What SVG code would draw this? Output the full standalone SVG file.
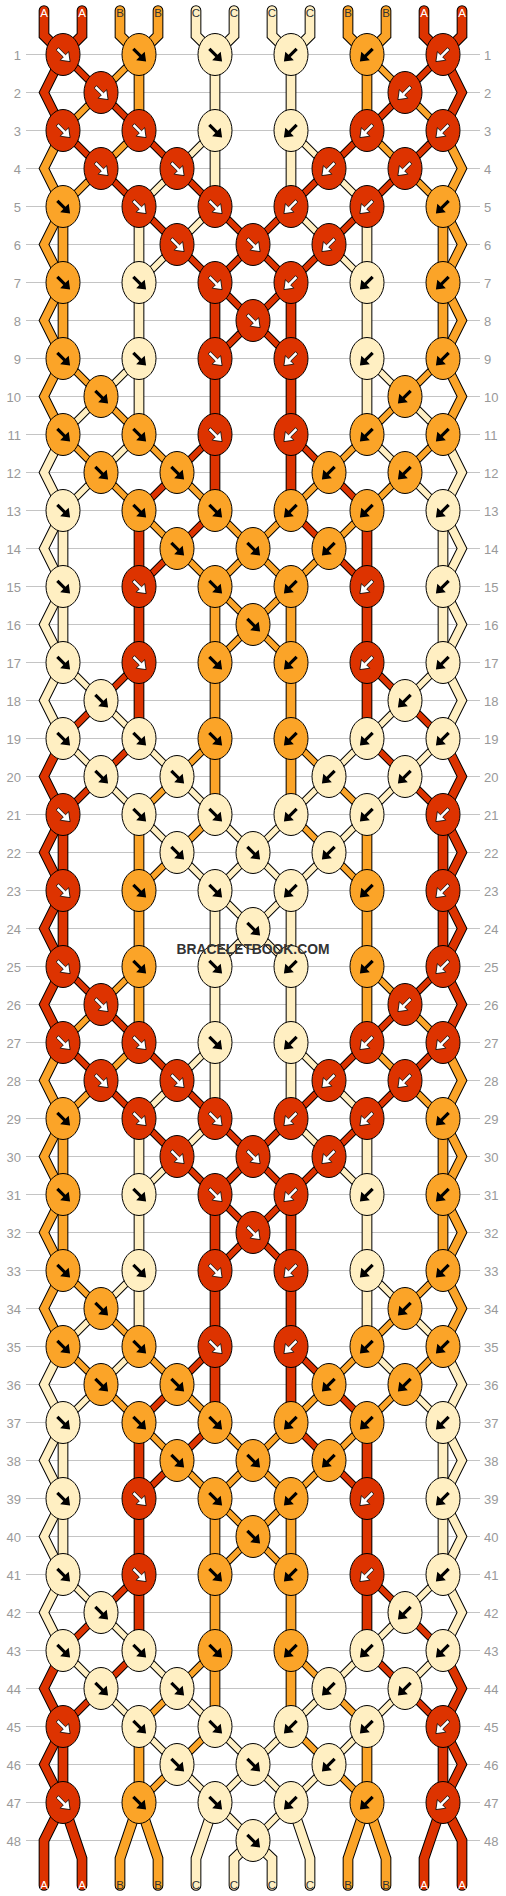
<svg xmlns="http://www.w3.org/2000/svg" width="506" height="1896" viewBox="0 0 506 1896">
<style>
.kR{fill:#dd3300;stroke:#000;stroke-width:1}
.kO{fill:#fba428;stroke:#000;stroke-width:1}
.kC{fill:#ffefc2;stroke:#000;stroke-width:1}
.aw{fill:#fff;stroke:#000;stroke-width:.8}
.ab{fill:#000}
#connectors use{fill:none}
.K use{stroke:#000}
.R{stroke:#dd3300}.O{stroke:#fba428}.C{stroke:#ffefc2}
.d{stroke-width:5.6}.K .d{stroke-width:7.6}
.v{stroke-width:8.7}.K .v{stroke-width:10.7}
.e{stroke-width:7.8}.K .e{stroke-width:9.8}
.x{stroke-linecap:round}
.grid{fill:none;stroke:#c4c4c4;stroke-width:1}
.rl,.rr{font-family:"Liberation Sans",Arial,sans-serif;font-size:13px;fill:#999}
.rl{text-anchor:end}.rr{text-anchor:start}
.sl{font-family:"Liberation Sans",Arial,sans-serif;font-size:11.5px;text-anchor:middle;fill:#333}
.sw{fill:#fff}
.brand{font-family:"Liberation Sans",Arial,sans-serif;font-size:14px;font-weight:bold;fill:#333;text-anchor:middle}
</style>
<defs>
<path id="af" d="M-4.5-6.8L2.5.3L5.7-2.8L7.1 7.1L-2.8 5.7L.3 2.5L-6.8-4.5Z"/>
<g id="Rf"><ellipse class="kR" rx="17" ry="21"/><use href="#af" class="aw"/></g>
<g id="Rb"><ellipse class="kR" rx="17" ry="21"/><use href="#af" class="aw" transform="scale(-1 1)"/></g>
<g id="Of"><ellipse class="kO" rx="17" ry="21"/><use href="#af" class="ab"/></g>
<g id="Ob"><ellipse class="kO" rx="17" ry="21"/><use href="#af" class="ab" transform="scale(-1 1)"/></g>
<g id="Cf"><ellipse class="kC" rx="17" ry="21"/><use href="#af" class="ab"/></g>
<g id="Cb"><ellipse class="kC" rx="17" ry="21"/><use href="#af" class="ab" transform="scale(-1 1)"/></g>
<path id="dR" d="M63 54L101 92L139 130M443 54L405 92L367 130M63 130L101 168L139 206M139 130L177 168L215 206M367 130L329 168L291 206M443 130L405 168L367 206M139 206L177 244L215 282M215 206L253 244L291 282M291 206L253 244L215 282M367 206L329 244L291 282M215 282L253 320L291 358M291 282L253 320L215 358M215 434L177 472L139 510M291 434L329 472L367 510M215 510L177 548L139 586M291 510L329 548L367 586M139 662L101 700L63 738M367 662L405 700L443 738M139 738L101 776L63 814M367 738L405 776L443 814"/>
<path id="dO" d="M139 54L101 92L63 130M367 54L405 92L443 130M139 130L101 168L63 206M367 130L405 168L443 206M63 358L101 396L139 434M443 358L405 396L367 434M63 434L101 472L139 510M139 434L177 472L215 510M367 434L329 472L291 510M443 434L405 472L367 510M139 510L177 548L215 586M215 510L253 548L291 586M291 510L253 548L215 586M367 510L329 548L291 586M215 586L253 624L291 662M291 586L253 624L215 662M215 738L177 776L139 814M291 738L329 776L367 814M215 814L177 852L139 890M291 814L329 852L367 890"/>
<path id="dC" d="M215 130L177 168L139 206M291 130L329 168L367 206M215 206L177 244L139 282M291 206L329 244L367 282M139 358L101 396L63 434M367 358L405 396L443 434M139 434L101 472L63 510M367 434L405 472L443 510M63 662L101 700L139 738M443 662L405 700L367 738M63 738L101 776L139 814M139 738L177 776L215 814M367 738L329 776L291 814M443 738L405 776L367 814M139 814L177 852L215 890M215 814L253 852L291 890M291 814L253 852L215 890M367 814L329 852L291 890"/>
<path id="vR" d="M215 282V510M291 282V510M139 510V738M367 510V738M63 814V890M443 814V890"/>
<path id="vO" d="M139 54V130M367 54V130M63 206V358M443 206V358M215 586V814M291 586V814M139 814V890M367 814V890"/>
<path id="vC" d="M215 54V206M291 54V206M139 206V434M367 206V434M63 510V662M443 510V662"/>
<path id="eR" d="M63 54L44 92L63 130M443 54L462 92L443 130M63 738L44 776L63 814L44 852L63 890M443 738L462 776L443 814L462 852L443 890"/>
<path id="eO" d="M63 130L44 168L63 206L44 244L63 282L44 320L63 358L44 396L63 434M443 130L462 168L443 206L462 244L443 282L462 320L443 358L462 396L443 434"/>
<path id="eC" d="M63 434L44 472L63 510L44 548L63 586L44 624L63 662L44 700L63 738M443 434L462 472L443 510L462 548L443 586L462 624L443 662L462 700L443 738"/>
<path id="bR" d="M63 890L44 928L63 966M443 890L462 928L443 966"/>
<path id="bC" d="M215 890L253 928L291 966M291 890L253 928L215 966M215 1802L253 1840L291 1802"/>
<path id="xR" d="M44 10V35L63 54M82 10V35L63 54M424 10V35L443 54M462 10V35L443 54M63 890V966M443 890V966M63 1802L44 1840V1885M63 1802L82 1858V1885M443 1802L424 1858V1885M443 1802L462 1840V1885"/>
<path id="xO" d="M120 10V35L139 54M158 10V35L139 54M348 10V35L367 54M386 10V35L367 54M139 890V966M367 890V966M139 1802L120 1858V1885M139 1802L158 1858V1885M367 1802L348 1858V1885M367 1802L386 1858V1885"/>
<path id="xC" d="M196 10V35L215 54M234 10V35L215 54M272 10V35L291 54M310 10V35L291 54M215 890V966M291 890V966M215 1802L196 1858V1885M253 1840L234 1858V1885M253 1840L272 1858V1885M291 1802L310 1858V1885"/>
</defs>
<rect width="506" height="1896" fill="#fff"/>
<g transform="translate(0 .5)">
<path class="grid" d="M26 54H480M26 92H480M26 130H480M26 168H480M26 206H480M26 244H480M26 282H480M26 320H480M26 358H480M26 396H480M26 434H480M26 472H480M26 510H480M26 548H480M26 586H480M26 624H480M26 662H480M26 700H480M26 738H480M26 776H480M26 814H480M26 852H480M26 890H480M26 928H480M26 966H480M26 1004H480M26 1042H480M26 1080H480M26 1118H480M26 1156H480M26 1194H480M26 1232H480M26 1270H480M26 1308H480M26 1346H480M26 1384H480M26 1422H480M26 1460H480M26 1498H480M26 1536H480M26 1574H480M26 1612H480M26 1650H480M26 1688H480M26 1726H480M26 1764H480M26 1802H480M26 1840H480"/>
<g id="row-numbers">
<text class="rl" x="21" y="59">1</text><text class="rl" x="21" y="97">2</text><text class="rl" x="21" y="135">3</text><text class="rl" x="21" y="173">4</text><text class="rl" x="21" y="211">5</text><text class="rl" x="21" y="249">6</text><text class="rl" x="21" y="287">7</text><text class="rl" x="21" y="325">8</text><text class="rl" x="21" y="363">9</text><text class="rl" x="21" y="401">10</text><text class="rl" x="21" y="439">11</text><text class="rl" x="21" y="477">12</text><text class="rl" x="21" y="515">13</text><text class="rl" x="21" y="553">14</text><text class="rl" x="21" y="591">15</text><text class="rl" x="21" y="629">16</text><text class="rl" x="21" y="667">17</text><text class="rl" x="21" y="705">18</text><text class="rl" x="21" y="743">19</text><text class="rl" x="21" y="781">20</text><text class="rl" x="21" y="819">21</text><text class="rl" x="21" y="857">22</text><text class="rl" x="21" y="895">23</text><text class="rl" x="21" y="933">24</text><text class="rl" x="21" y="971">25</text><text class="rl" x="21" y="1009">26</text><text class="rl" x="21" y="1047">27</text><text class="rl" x="21" y="1085">28</text><text class="rl" x="21" y="1123">29</text><text class="rl" x="21" y="1161">30</text><text class="rl" x="21" y="1199">31</text><text class="rl" x="21" y="1237">32</text><text class="rl" x="21" y="1275">33</text><text class="rl" x="21" y="1313">34</text><text class="rl" x="21" y="1351">35</text><text class="rl" x="21" y="1389">36</text><text class="rl" x="21" y="1427">37</text><text class="rl" x="21" y="1465">38</text><text class="rl" x="21" y="1503">39</text><text class="rl" x="21" y="1541">40</text><text class="rl" x="21" y="1579">41</text><text class="rl" x="21" y="1617">42</text><text class="rl" x="21" y="1655">43</text><text class="rl" x="21" y="1693">44</text><text class="rl" x="21" y="1731">45</text><text class="rl" x="21" y="1769">46</text><text class="rl" x="21" y="1807">47</text><text class="rl" x="21" y="1845">48</text>
<text class="rr" x="484" y="59">1</text><text class="rr" x="484" y="97">2</text><text class="rr" x="484" y="135">3</text><text class="rr" x="484" y="173">4</text><text class="rr" x="484" y="211">5</text><text class="rr" x="484" y="249">6</text><text class="rr" x="484" y="287">7</text><text class="rr" x="484" y="325">8</text><text class="rr" x="484" y="363">9</text><text class="rr" x="484" y="401">10</text><text class="rr" x="484" y="439">11</text><text class="rr" x="484" y="477">12</text><text class="rr" x="484" y="515">13</text><text class="rr" x="484" y="553">14</text><text class="rr" x="484" y="591">15</text><text class="rr" x="484" y="629">16</text><text class="rr" x="484" y="667">17</text><text class="rr" x="484" y="705">18</text><text class="rr" x="484" y="743">19</text><text class="rr" x="484" y="781">20</text><text class="rr" x="484" y="819">21</text><text class="rr" x="484" y="857">22</text><text class="rr" x="484" y="895">23</text><text class="rr" x="484" y="933">24</text><text class="rr" x="484" y="971">25</text><text class="rr" x="484" y="1009">26</text><text class="rr" x="484" y="1047">27</text><text class="rr" x="484" y="1085">28</text><text class="rr" x="484" y="1123">29</text><text class="rr" x="484" y="1161">30</text><text class="rr" x="484" y="1199">31</text><text class="rr" x="484" y="1237">32</text><text class="rr" x="484" y="1275">33</text><text class="rr" x="484" y="1313">34</text><text class="rr" x="484" y="1351">35</text><text class="rr" x="484" y="1389">36</text><text class="rr" x="484" y="1427">37</text><text class="rr" x="484" y="1465">38</text><text class="rr" x="484" y="1503">39</text><text class="rr" x="484" y="1541">40</text><text class="rr" x="484" y="1579">41</text><text class="rr" x="484" y="1617">42</text><text class="rr" x="484" y="1655">43</text><text class="rr" x="484" y="1693">44</text><text class="rr" x="484" y="1731">45</text><text class="rr" x="484" y="1769">46</text><text class="rr" x="484" y="1807">47</text><text class="rr" x="484" y="1845">48</text>
</g>
<g id="connectors">
<g class="K">
<use href="#dR" class="d"/><use href="#dO" class="d"/><use href="#dC" class="d"/>
<use href="#dR" class="d" y="912"/><use href="#dO" class="d" y="912"/><use href="#dC" class="d" y="912"/>
<use href="#bC" class="d"/>
<use href="#eR" class="e"/><use href="#eO" class="e"/><use href="#eC" class="e"/>
<use href="#eR" class="e" y="912"/><use href="#eO" class="e" y="912"/><use href="#eC" class="e" y="912"/>
<use href="#bR" class="e"/>
<use href="#vR" class="v"/><use href="#vO" class="v"/><use href="#vC" class="v"/>
<use href="#vR" class="v" y="912"/><use href="#vO" class="v" y="912"/><use href="#vC" class="v" y="912"/>
<use href="#xR" class="v x"/><use href="#xO" class="v x"/><use href="#xC" class="v x"/>
</g>
<g>
<use href="#dR" class="d R"/><use href="#dO" class="d O"/><use href="#dC" class="d C"/>
<use href="#dR" class="d R" y="912"/><use href="#dO" class="d O" y="912"/><use href="#dC" class="d C" y="912"/>
<use href="#bC" class="d C"/>
<use href="#eR" class="e R"/><use href="#eO" class="e O"/><use href="#eC" class="e C"/>
<use href="#eR" class="e R" y="912"/><use href="#eO" class="e O" y="912"/><use href="#eC" class="e C" y="912"/>
<use href="#bR" class="e R"/>
<use href="#vR" class="v R"/><use href="#vO" class="v O"/><use href="#vC" class="v C"/>
<use href="#vR" class="v R" y="912"/><use href="#vO" class="v O" y="912"/><use href="#vC" class="v C" y="912"/>
<use href="#xR" class="v x R"/><use href="#xO" class="v x O"/><use href="#xC" class="v x C"/>
</g>
</g>
<g id="string-labels">
<text class="sl sw" x="44" y="16.2">A</text><text class="sl sw" x="82" y="16.2">A</text><text class="sl" x="120" y="16.2">B</text><text class="sl" x="158" y="16.2">B</text><text class="sl" x="196" y="16.2">C</text><text class="sl" x="234" y="16.2">C</text><text class="sl" x="272" y="16.2">C</text><text class="sl" x="310" y="16.2">C</text><text class="sl" x="348" y="16.2">B</text><text class="sl" x="386" y="16.2">B</text><text class="sl sw" x="424" y="16.2">A</text><text class="sl sw" x="462" y="16.2">A</text>
<text class="sl sw" x="44" y="1888.5">A</text><text class="sl sw" x="82" y="1888.5">A</text><text class="sl" x="120" y="1888.5">B</text><text class="sl" x="158" y="1888.5">B</text><text class="sl" x="196" y="1888.5">C</text><text class="sl" x="234" y="1888.5">C</text><text class="sl" x="272" y="1888.5">C</text><text class="sl" x="310" y="1888.5">C</text><text class="sl" x="348" y="1888.5">B</text><text class="sl" x="386" y="1888.5">B</text><text class="sl sw" x="424" y="1888.5">A</text><text class="sl sw" x="462" y="1888.5">A</text>
</g>
<g id="knots">
<g id="n1-0"><use href="#Rf" x="63" y="54"/></g><g id="n1-2"><use href="#Of" x="139" y="54"/></g><g id="n1-4"><use href="#Cf" x="215" y="54"/></g><g id="n1-6"><use href="#Cb" x="291" y="54"/></g><g id="n1-8"><use href="#Ob" x="367" y="54"/></g><g id="n1-10"><use href="#Rb" x="443" y="54"/></g>
<g id="n2-1"><use href="#Rf" x="101" y="92"/></g><g id="n2-9"><use href="#Rb" x="405" y="92"/></g>
<g id="n3-0"><use href="#Rf" x="63" y="130"/></g><g id="n3-2"><use href="#Rf" x="139" y="130"/></g><g id="n3-4"><use href="#Cf" x="215" y="130"/></g><g id="n3-6"><use href="#Cb" x="291" y="130"/></g><g id="n3-8"><use href="#Rb" x="367" y="130"/></g><g id="n3-10"><use href="#Rb" x="443" y="130"/></g>
<g id="n4-1"><use href="#Rf" x="101" y="168"/></g><g id="n4-3"><use href="#Rf" x="177" y="168"/></g><g id="n4-7"><use href="#Rb" x="329" y="168"/></g><g id="n4-9"><use href="#Rb" x="405" y="168"/></g>
<g id="n5-0"><use href="#Of" x="63" y="206"/></g><g id="n5-2"><use href="#Rf" x="139" y="206"/></g><g id="n5-4"><use href="#Rf" x="215" y="206"/></g><g id="n5-6"><use href="#Rb" x="291" y="206"/></g><g id="n5-8"><use href="#Rb" x="367" y="206"/></g><g id="n5-10"><use href="#Ob" x="443" y="206"/></g>
<g id="n6-3"><use href="#Rf" x="177" y="244"/></g><g id="n6-5"><use href="#Rf" x="253" y="244"/></g><g id="n6-7"><use href="#Rb" x="329" y="244"/></g>
<g id="n7-0"><use href="#Of" x="63" y="282"/></g><g id="n7-2"><use href="#Cf" x="139" y="282"/></g><g id="n7-4"><use href="#Rf" x="215" y="282"/></g><g id="n7-6"><use href="#Rb" x="291" y="282"/></g><g id="n7-8"><use href="#Cb" x="367" y="282"/></g><g id="n7-10"><use href="#Ob" x="443" y="282"/></g>
<g id="n8-5"><use href="#Rf" x="253" y="320"/></g>
<g id="n9-0"><use href="#Of" x="63" y="358"/></g><g id="n9-2"><use href="#Cf" x="139" y="358"/></g><g id="n9-4"><use href="#Rf" x="215" y="358"/></g><g id="n9-6"><use href="#Rb" x="291" y="358"/></g><g id="n9-8"><use href="#Cb" x="367" y="358"/></g><g id="n9-10"><use href="#Ob" x="443" y="358"/></g>
<g id="n10-1"><use href="#Of" x="101" y="396"/></g><g id="n10-9"><use href="#Ob" x="405" y="396"/></g>
<g id="n11-0"><use href="#Of" x="63" y="434"/></g><g id="n11-2"><use href="#Of" x="139" y="434"/></g><g id="n11-4"><use href="#Rf" x="215" y="434"/></g><g id="n11-6"><use href="#Rb" x="291" y="434"/></g><g id="n11-8"><use href="#Ob" x="367" y="434"/></g><g id="n11-10"><use href="#Ob" x="443" y="434"/></g>
<g id="n12-1"><use href="#Of" x="101" y="472"/></g><g id="n12-3"><use href="#Of" x="177" y="472"/></g><g id="n12-7"><use href="#Ob" x="329" y="472"/></g><g id="n12-9"><use href="#Ob" x="405" y="472"/></g>
<g id="n13-0"><use href="#Cf" x="63" y="510"/></g><g id="n13-2"><use href="#Of" x="139" y="510"/></g><g id="n13-4"><use href="#Of" x="215" y="510"/></g><g id="n13-6"><use href="#Ob" x="291" y="510"/></g><g id="n13-8"><use href="#Ob" x="367" y="510"/></g><g id="n13-10"><use href="#Cb" x="443" y="510"/></g>
<g id="n14-3"><use href="#Of" x="177" y="548"/></g><g id="n14-5"><use href="#Of" x="253" y="548"/></g><g id="n14-7"><use href="#Ob" x="329" y="548"/></g>
<g id="n15-0"><use href="#Cf" x="63" y="586"/></g><g id="n15-2"><use href="#Rf" x="139" y="586"/></g><g id="n15-4"><use href="#Of" x="215" y="586"/></g><g id="n15-6"><use href="#Ob" x="291" y="586"/></g><g id="n15-8"><use href="#Rb" x="367" y="586"/></g><g id="n15-10"><use href="#Cb" x="443" y="586"/></g>
<g id="n16-5"><use href="#Of" x="253" y="624"/></g>
<g id="n17-0"><use href="#Cf" x="63" y="662"/></g><g id="n17-2"><use href="#Rf" x="139" y="662"/></g><g id="n17-4"><use href="#Of" x="215" y="662"/></g><g id="n17-6"><use href="#Ob" x="291" y="662"/></g><g id="n17-8"><use href="#Rb" x="367" y="662"/></g><g id="n17-10"><use href="#Cb" x="443" y="662"/></g>
<g id="n18-1"><use href="#Cf" x="101" y="700"/></g><g id="n18-9"><use href="#Cb" x="405" y="700"/></g>
<g id="n19-0"><use href="#Cf" x="63" y="738"/></g><g id="n19-2"><use href="#Cf" x="139" y="738"/></g><g id="n19-4"><use href="#Of" x="215" y="738"/></g><g id="n19-6"><use href="#Ob" x="291" y="738"/></g><g id="n19-8"><use href="#Cb" x="367" y="738"/></g><g id="n19-10"><use href="#Cb" x="443" y="738"/></g>
<g id="n20-1"><use href="#Cf" x="101" y="776"/></g><g id="n20-3"><use href="#Cf" x="177" y="776"/></g><g id="n20-7"><use href="#Cb" x="329" y="776"/></g><g id="n20-9"><use href="#Cb" x="405" y="776"/></g>
<g id="n21-0"><use href="#Rf" x="63" y="814"/></g><g id="n21-2"><use href="#Cf" x="139" y="814"/></g><g id="n21-4"><use href="#Cf" x="215" y="814"/></g><g id="n21-6"><use href="#Cb" x="291" y="814"/></g><g id="n21-8"><use href="#Cb" x="367" y="814"/></g><g id="n21-10"><use href="#Rb" x="443" y="814"/></g>
<g id="n22-3"><use href="#Cf" x="177" y="852"/></g><g id="n22-5"><use href="#Cf" x="253" y="852"/></g><g id="n22-7"><use href="#Cb" x="329" y="852"/></g>
<g id="n23-0"><use href="#Rf" x="63" y="890"/></g><g id="n23-2"><use href="#Of" x="139" y="890"/></g><g id="n23-4"><use href="#Cf" x="215" y="890"/></g><g id="n23-6"><use href="#Cb" x="291" y="890"/></g><g id="n23-8"><use href="#Ob" x="367" y="890"/></g><g id="n23-10"><use href="#Rb" x="443" y="890"/></g>
<g id="n24-5"><use href="#Cf" x="253" y="928"/></g>
<g id="n25-0"><use href="#Rf" x="63" y="966"/></g><g id="n25-2"><use href="#Of" x="139" y="966"/></g><g id="n25-4"><use href="#Cf" x="215" y="966"/></g><g id="n25-6"><use href="#Cb" x="291" y="966"/></g><g id="n25-8"><use href="#Ob" x="367" y="966"/></g><g id="n25-10"><use href="#Rb" x="443" y="966"/></g>
<g id="n26-1"><use href="#Rf" x="101" y="1004"/></g><g id="n26-9"><use href="#Rb" x="405" y="1004"/></g>
<g id="n27-0"><use href="#Rf" x="63" y="1042"/></g><g id="n27-2"><use href="#Rf" x="139" y="1042"/></g><g id="n27-4"><use href="#Cf" x="215" y="1042"/></g><g id="n27-6"><use href="#Cb" x="291" y="1042"/></g><g id="n27-8"><use href="#Rb" x="367" y="1042"/></g><g id="n27-10"><use href="#Rb" x="443" y="1042"/></g>
<g id="n28-1"><use href="#Rf" x="101" y="1080"/></g><g id="n28-3"><use href="#Rf" x="177" y="1080"/></g><g id="n28-7"><use href="#Rb" x="329" y="1080"/></g><g id="n28-9"><use href="#Rb" x="405" y="1080"/></g>
<g id="n29-0"><use href="#Of" x="63" y="1118"/></g><g id="n29-2"><use href="#Rf" x="139" y="1118"/></g><g id="n29-4"><use href="#Rf" x="215" y="1118"/></g><g id="n29-6"><use href="#Rb" x="291" y="1118"/></g><g id="n29-8"><use href="#Rb" x="367" y="1118"/></g><g id="n29-10"><use href="#Ob" x="443" y="1118"/></g>
<g id="n30-3"><use href="#Rf" x="177" y="1156"/></g><g id="n30-5"><use href="#Rf" x="253" y="1156"/></g><g id="n30-7"><use href="#Rb" x="329" y="1156"/></g>
<g id="n31-0"><use href="#Of" x="63" y="1194"/></g><g id="n31-2"><use href="#Cf" x="139" y="1194"/></g><g id="n31-4"><use href="#Rf" x="215" y="1194"/></g><g id="n31-6"><use href="#Rb" x="291" y="1194"/></g><g id="n31-8"><use href="#Cb" x="367" y="1194"/></g><g id="n31-10"><use href="#Ob" x="443" y="1194"/></g>
<g id="n32-5"><use href="#Rf" x="253" y="1232"/></g>
<g id="n33-0"><use href="#Of" x="63" y="1270"/></g><g id="n33-2"><use href="#Cf" x="139" y="1270"/></g><g id="n33-4"><use href="#Rf" x="215" y="1270"/></g><g id="n33-6"><use href="#Rb" x="291" y="1270"/></g><g id="n33-8"><use href="#Cb" x="367" y="1270"/></g><g id="n33-10"><use href="#Ob" x="443" y="1270"/></g>
<g id="n34-1"><use href="#Of" x="101" y="1308"/></g><g id="n34-9"><use href="#Ob" x="405" y="1308"/></g>
<g id="n35-0"><use href="#Of" x="63" y="1346"/></g><g id="n35-2"><use href="#Of" x="139" y="1346"/></g><g id="n35-4"><use href="#Rf" x="215" y="1346"/></g><g id="n35-6"><use href="#Rb" x="291" y="1346"/></g><g id="n35-8"><use href="#Ob" x="367" y="1346"/></g><g id="n35-10"><use href="#Ob" x="443" y="1346"/></g>
<g id="n36-1"><use href="#Of" x="101" y="1384"/></g><g id="n36-3"><use href="#Of" x="177" y="1384"/></g><g id="n36-7"><use href="#Ob" x="329" y="1384"/></g><g id="n36-9"><use href="#Ob" x="405" y="1384"/></g>
<g id="n37-0"><use href="#Cf" x="63" y="1422"/></g><g id="n37-2"><use href="#Of" x="139" y="1422"/></g><g id="n37-4"><use href="#Of" x="215" y="1422"/></g><g id="n37-6"><use href="#Ob" x="291" y="1422"/></g><g id="n37-8"><use href="#Ob" x="367" y="1422"/></g><g id="n37-10"><use href="#Cb" x="443" y="1422"/></g>
<g id="n38-3"><use href="#Of" x="177" y="1460"/></g><g id="n38-5"><use href="#Of" x="253" y="1460"/></g><g id="n38-7"><use href="#Ob" x="329" y="1460"/></g>
<g id="n39-0"><use href="#Cf" x="63" y="1498"/></g><g id="n39-2"><use href="#Rf" x="139" y="1498"/></g><g id="n39-4"><use href="#Of" x="215" y="1498"/></g><g id="n39-6"><use href="#Ob" x="291" y="1498"/></g><g id="n39-8"><use href="#Rb" x="367" y="1498"/></g><g id="n39-10"><use href="#Cb" x="443" y="1498"/></g>
<g id="n40-5"><use href="#Of" x="253" y="1536"/></g>
<g id="n41-0"><use href="#Cf" x="63" y="1574"/></g><g id="n41-2"><use href="#Rf" x="139" y="1574"/></g><g id="n41-4"><use href="#Of" x="215" y="1574"/></g><g id="n41-6"><use href="#Ob" x="291" y="1574"/></g><g id="n41-8"><use href="#Rb" x="367" y="1574"/></g><g id="n41-10"><use href="#Cb" x="443" y="1574"/></g>
<g id="n42-1"><use href="#Cf" x="101" y="1612"/></g><g id="n42-9"><use href="#Cb" x="405" y="1612"/></g>
<g id="n43-0"><use href="#Cf" x="63" y="1650"/></g><g id="n43-2"><use href="#Cf" x="139" y="1650"/></g><g id="n43-4"><use href="#Of" x="215" y="1650"/></g><g id="n43-6"><use href="#Ob" x="291" y="1650"/></g><g id="n43-8"><use href="#Cb" x="367" y="1650"/></g><g id="n43-10"><use href="#Cb" x="443" y="1650"/></g>
<g id="n44-1"><use href="#Cf" x="101" y="1688"/></g><g id="n44-3"><use href="#Cf" x="177" y="1688"/></g><g id="n44-7"><use href="#Cb" x="329" y="1688"/></g><g id="n44-9"><use href="#Cb" x="405" y="1688"/></g>
<g id="n45-0"><use href="#Rf" x="63" y="1726"/></g><g id="n45-2"><use href="#Cf" x="139" y="1726"/></g><g id="n45-4"><use href="#Cf" x="215" y="1726"/></g><g id="n45-6"><use href="#Cb" x="291" y="1726"/></g><g id="n45-8"><use href="#Cb" x="367" y="1726"/></g><g id="n45-10"><use href="#Rb" x="443" y="1726"/></g>
<g id="n46-3"><use href="#Cf" x="177" y="1764"/></g><g id="n46-5"><use href="#Cf" x="253" y="1764"/></g><g id="n46-7"><use href="#Cb" x="329" y="1764"/></g>
<g id="n47-0"><use href="#Rf" x="63" y="1802"/></g><g id="n47-2"><use href="#Of" x="139" y="1802"/></g><g id="n47-4"><use href="#Cf" x="215" y="1802"/></g><g id="n47-6"><use href="#Cb" x="291" y="1802"/></g><g id="n47-8"><use href="#Ob" x="367" y="1802"/></g><g id="n47-10"><use href="#Rb" x="443" y="1802"/></g>
<g id="n48-5"><use href="#Cf" x="253" y="1840"/></g>
</g>
<text class="brand" x="253" y="953" textLength="153" lengthAdjust="spacingAndGlyphs">BRACELETBOOK.COM</text>
</g>
</svg>
